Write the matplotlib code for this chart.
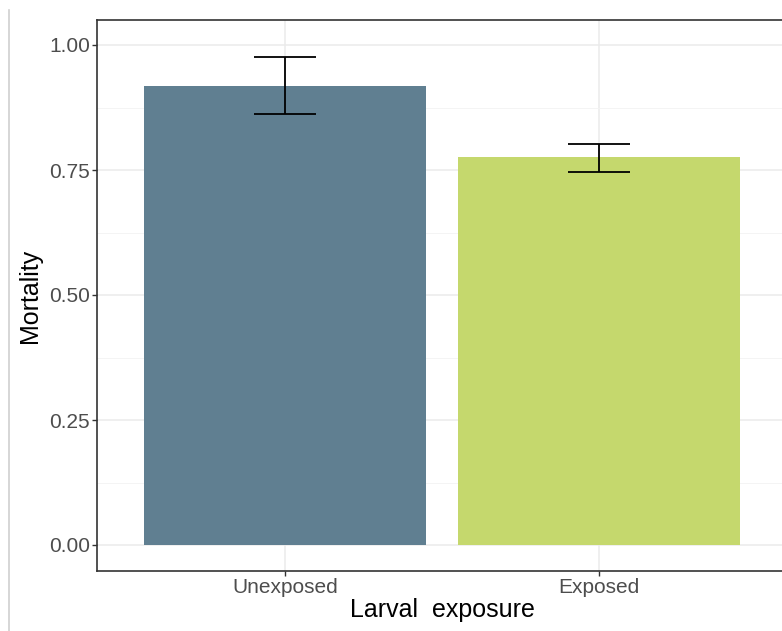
import matplotlib.pyplot as plt
from matplotlib.lines import Line2D

# data
groups = ['Unexposed', 'Exposed']
mortality = [0.918, 0.776]
err_low = [0.862, 0.746]
err_high = [0.976, 0.802]
colors = ['#607f91', '#c5d86d']

plt.rcParams['font.family'] = ['Liberation Sans', 'DejaVu Sans']

fig = plt.figure(figsize=(7.82, 6.31), dpi=100)
# panel runs a little past the right edge of the picture
ax = fig.add_axes([97 / 782, 60 / 631, 690 / 782, 551 / 631])

x = [1, 2]
ax.bar(x, mortality, width=0.9, color=colors, zorder=2)
yerr = [[m - lo for m, lo in zip(mortality, err_low)],
        [hi - m for m, hi in zip(mortality, err_high)]]
ax.errorbar(x, mortality, yerr=yerr, fmt='none', ecolor='black',
            elinewidth=1.3, capsize=22.5, capthick=1.3, zorder=3)

ax.set_xlim(0.4, 2.6)
ax.set_ylim(-0.052, 1.05)
ax.set_xticks(x)
ax.set_xticklabels(groups)
ax.set_yticks([0, 0.25, 0.5, 0.75, 1.0])
ax.set_yticklabels(['0.00', '0.25', '0.50', '0.75', '1.00'])
ax.set_yticks([0.125, 0.375, 0.625, 0.875], minor=True)

ax.grid(True, which='major', color='#ebebeb', linewidth=1.1, zorder=0)
ax.grid(True, which='minor', axis='y', color='#f3f3f3', linewidth=0.6, zorder=0)
ax.set_axisbelow(True)

ax.tick_params(axis='both', which='major', length=3.5, width=1, color='#333333',
               labelsize=15, labelcolor='#4d4d4d', pad=1.5)
ax.tick_params(axis='y', which='minor', length=0)
for s in ax.spines.values():
    s.set_color('#333333')
    s.set_linewidth(1.2)

ax.set_xlabel('Larval  exposure', fontsize=18, labelpad=1)
ax.set_ylabel('Mortality', fontsize=18, labelpad=5)

# thin gray line at the left of the screenshot
fig.add_artist(Line2D([9 / 782, 9 / 782], [0, 1 - 10 / 631], color='#d0d0d0',
                      linewidth=1.2, transform=fig.transFigure))

fig.savefig('out.png', dpi=100)
